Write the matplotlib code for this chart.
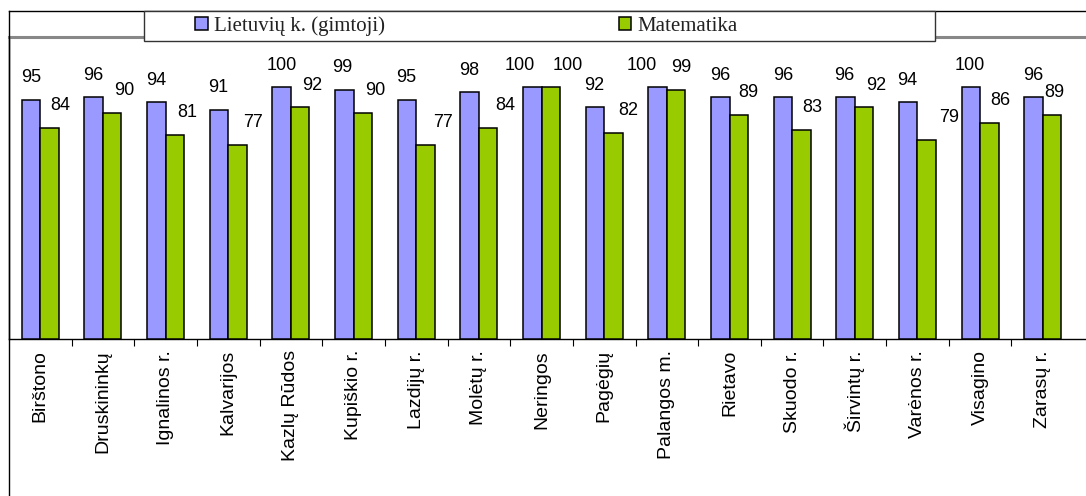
import matplotlib
matplotlib.use("Agg")
import matplotlib.pyplot as plt
from matplotlib.lines import Line2D
from matplotlib.patches import Rectangle
import numpy as np

categories = ["Birštono", "Druskininkų", "Ignalinos r.", "Kalvarijos", "Kazlų Rūdos",
              "Kupiškio r.", "Lazdijų r.", "Molėtų r.", "Neringos", "Pagėgių",
              "Palangos m.", "Rietavo", "Skuodo r.", "Širvintų r.", "Varėnos r.",
              "Visagino", "Zarasų r."]
lietuviu = [95, 96, 94, 91, 100, 99, 95, 98, 100, 92, 100, 96, 96, 96, 94, 100, 96]
matematika = [84, 90, 81, 77, 92, 90, 77, 84, 100, 82, 99, 89, 83, 92, 79, 86, 89]
series_names = ["Lietuvių k. (gimtoji)", "Matematika"]

# horizontal nudges of the value labels (pixels), as laid out in the reference
nudge_blue = [0, 0, 0, -1, 0, -2, -1, 0, -13, -1, -16, 0, 0, -1, -1, -1, 0]
nudge_green = [11, 12, 12, 15, 12, 12, 18, 17, 17, 15, 5, 10, 11, 12, 22, 11, 2]

W, H = 1086, 496
fig = plt.figure(figsize=(W / 100, H / 100), dpi=100)
plt.rcParams['font.family'] = ['Liberation Sans', 'DejaVu Sans']

def fx(px):
    return px / W

def fy(py):
    return 1 - py / H

PX = 0.72  # points per pixel at 100 dpi

ax_left, ax_right, ax_top, ax_bot = 9, 1086, 37, 339
ax = fig.add_axes([fx(ax_left), fy(ax_bot), fx(ax_right - ax_left), (ax_bot - ax_top) / H])

x = np.arange(len(categories))
bw = 0.295
b1 = ax.bar(x - bw / 2, lietuviu, width=bw, color="#9999FF", edgecolor="black",
            linewidth=1.1, label=series_names[0], zorder=3)
b2 = ax.bar(x + bw / 2, matematika, width=bw, color="#99CC00", edgecolor="black",
            linewidth=1.1, label=series_names[1], zorder=3)

ax.set_ylim(0, 120)
ax.set_xlim(-0.5, 16.69)

for xi, v, dx in zip(x, lietuviu, nudge_blue):
    ax.annotate(str(v), (xi - bw / 2, v), xytext=(dx * PX, 16), textcoords="offset points",
                ha="center", va="center", fontsize=13, color="black")
for xi, v, dx in zip(x, matematika, nudge_green):
    ax.annotate(str(v), (xi + bw / 2, v), xytext=(dx * PX, 16), textcoords="offset points",
                ha="center", va="center", fontsize=13, color="black")

ax.set_xticks(x)
ax.set_xticklabels(categories, rotation=90, fontsize=14)
ax.set_xticks(np.arange(len(categories) - 1) + 0.5, minor=True)
ax.tick_params(axis="x", which="major", length=0, pad=8)
ax.tick_params(axis="x", which="minor", length=5, width=0.8, direction="out")
ax.set_yticks([])

ax.spines["right"].set_visible(False)
ax.spines["top"].set_color("#888888")
ax.spines["top"].set_linewidth(2.2)
ax.spines["left"].set_linewidth(1.0)
ax.spines["bottom"].set_linewidth(1.0)

# outer frame lines
fig.add_artist(Line2D([fx(9), fx(9)], [fy(10.5), 0], transform=fig.transFigure,
                      color="black", linewidth=1.0))
fig.add_artist(Line2D([fx(9), 1], [fy(10.5), fy(10.5)], transform=fig.transFigure,
                      color="black", linewidth=1.0))

# legend box
fig.add_artist(Rectangle((fx(144), fy(41)), fx(935 - 144), (41 - 11) / H,
                         transform=fig.transFigure, facecolor="white",
                         edgecolor="#333333", linewidth=1.0, zorder=5))

leg = fig.legend(handles=[b1, b2], labels=series_names, ncol=2, frameon=False,
                 loc="center left", bbox_to_anchor=(fx(195), fy(26)),
                 bbox_transform=fig.transFigure, borderpad=0, borderaxespad=0,
                 handlelength=0.62, handleheight=0.62, handletextpad=0.3,
                 columnspacing=11.2,
                 prop={"family": "Liberation Serif", "size": 15})
for t in leg.get_texts():
    t.set_color("#222222")
leg.set_zorder(6)

fig.savefig("out.png", dpi=100)
